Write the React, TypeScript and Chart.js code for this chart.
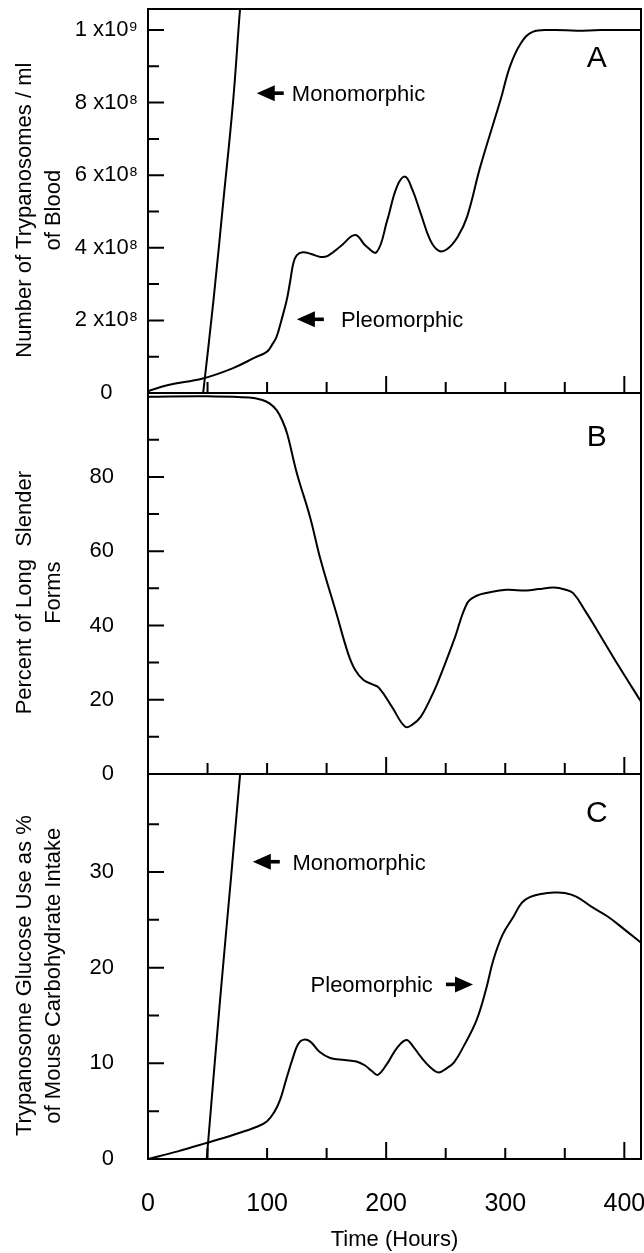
import React, { useEffect, useRef } from 'react';
import { Chart, registerables } from 'chart.js';

Chart.register(...registerables);

const FAMILY = "'Liberation Sans', Arial, Helvetica, sans-serif";

// ---------- x axis (Time, hours) ----------
const xTickValues = [0, 100, 200, 300, 400];
const xTickLabels = ['0', '100', '200', '300', '400'];
const xShortMarks = [50, 100, 150, 250, 300, 350];
const xLongMarks = [200, 400];

// ---------- Panel A: trypanosomes / ml of blood ----------
const aPleoHours = [0, 17, 46, 71, 90, 100, 104, 108, 112, 116.5, 119.5, 122, 125, 130, 137, 145, 151, 162, 174, 183, 192, 201, 209, 216, 222, 229, 237, 244, 251, 260, 268, 279, 296, 304, 313, 323, 340, 360, 380, 414];
const aPleoCounts = [0.05e8, 0.22e8, 0.4e8, 0.68e8, 0.98e8, 1.14e8, 1.32e8, 1.55e8, 2.0e8, 2.56e8, 3.1e8, 3.57e8, 3.8e8, 3.88e8, 3.83e8, 3.75e8, 3.78e8, 4.05e8, 4.35e8, 4.05e8, 3.88e8, 4.77e8, 5.68e8, 5.96e8, 5.6e8, 4.95e8, 4.21e8, 3.92e8, 3.96e8, 4.3e8, 4.86e8, 6.23e8, 8.07e8, 9.0e8, 9.63e8, 9.95e8, 10.0e8, 9.98e8, 10.0e8, 10.0e8];
const aMonoHours = [46.3, 55, 63.3, 71.5, 77.3, 80];
const aMonoCounts = [0, 2.56e8, 5.3e8, 8.05e8, 10.58e8, 11.5e8];
const yTicksA = [0, 2e8, 4e8, 6e8, 8e8, 1e9];
const yTickLabelsA = ['0', '2 x10⁸', '4 x10⁸', '6 x10⁸', '8 x10⁸', '1 x10⁹'];
const yMinorA = [1e8, 3e8, 5e8, 7e8, 9e8];

// ---------- Panel B: percent of long slender forms ----------
const bHours = [0, 50, 85, 96, 102, 108, 113, 117, 125, 136, 145, 158, 168, 174, 181, 188, 194, 205, 216, 222, 229, 236, 243, 257, 268, 276, 285, 301, 318, 328, 341, 350, 357, 367, 377, 395, 414];
const bPercent = [101.6, 101.7, 101.4, 100.7, 99.8, 98, 95, 91.5, 81, 69.3, 57.6, 43.5, 32.5, 28, 25.3, 24.2, 23.2, 18, 12.7, 13.3, 15.4, 19.5, 24.4, 36.1, 46, 48, 48.8, 49.6, 49.4, 49.8, 50.2, 49.7, 48.7, 44, 38.8, 29.2, 19.5];
const yTicksB = [0, 20, 40, 60, 80];
const yTickLabelsB = ['0', '20', '40', '60', '80'];
const yMinorB = [10, 30, 50, 70, 90];

// ---------- Panel C: glucose use as % of carbohydrate intake ----------
const cPleoHours = [0, 25, 49, 72, 92, 100, 106, 111, 116, 122, 126, 130, 136, 144, 153, 165, 175, 182, 188, 193, 201, 209, 217, 223, 229, 237, 244, 251, 257, 265, 276, 284, 290, 298, 307, 314, 321, 330, 341, 350, 360, 372, 386, 400, 414];
const cPleoUse = [0, 0.8, 1.67, 2.54, 3.4, 3.95, 4.9, 6.2, 8.3, 10.7, 12.0, 12.45, 12.3, 11.2, 10.55, 10.35, 10.2, 9.8, 9.2, 8.8, 10.0, 11.6, 12.45, 11.7, 10.7, 9.6, 9.05, 9.5, 10.1, 11.77, 14.55, 17.8, 20.8, 23.5, 25.35, 26.8, 27.4, 27.7, 27.85, 27.8, 27.4, 26.4, 25.35, 24, 22.6];
const cMonoHours = [49.3, 60.5, 70, 80];
const cMonoUse = [0, 16.6, 29.8, 44];
const yTicksC = [0, 10, 20, 30];
const yTickLabelsC = ['0', '10', '20', '30'];
const yMinorC = [5, 15, 25, 35];

// ---------- annotations (data coordinates) ----------
const arrowNotes = [
  { axis: 'yA', text: 'Monomorphic', tipX: 91.3, y: 8.26e8, dir: -1, textX: 120.8 },
  { axis: 'yA', text: 'Pleomorphic', tipX: 125, y: 2.03e8, dir: -1, textX: 162 },
  { axis: 'yC', text: 'Monomorphic', tipX: 88, y: 31.07, dir: -1, textX: 121.3 },
  { axis: 'yC', text: 'Pleomorphic', tipX: 272.9, y: 18.25, dir: 1, textX: 239.2 },
];
const panelLetters = [
  { axis: 'yA', text: 'A', x: 376.9, y: 9.28e8 },
  { axis: 'yB', text: 'B', x: 376.9, y: 91.3 },
  { axis: 'yC', text: 'C', x: 376.9, y: 36.3 },
];

const zip = (xs: number[], ys: number[]) => xs.map((x, i) => ({ x, y: ys[i] }));

const panelPlugin = {
  id: 'panelFrame',
  beforeDatasetDraw(chart: any, args: any) {
    const ys = chart.scales[args.meta.yAxisID];
    const { ctx, chartArea } = chart;
    ctx.save();
    ctx.beginPath();
    ctx.rect(chartArea.left, ys.top, chartArea.right - chartArea.left, ys.bottom - ys.top);
    ctx.clip();
  },
  afterDatasetDraw(chart: any) {
    chart.ctx.restore();
  },
  afterDraw(chart: any) {
    const { ctx, chartArea } = chart;
    const xs = chart.scales.x;
    const panels = [
      { s: chart.scales.yA, major: yTicksA.slice(1), minor: yMinorA },
      { s: chart.scales.yB, major: yTicksB.slice(1), minor: yMinorB },
      { s: chart.scales.yC, major: yTicksC.slice(1), minor: yMinorC },
    ];
    ctx.save();
    ctx.strokeStyle = '#000';
    ctx.fillStyle = '#000';
    ctx.lineWidth = 2;
    ctx.lineCap = 'butt';
    const L = chartArea.left;
    const R = chartArea.right;
    ctx.beginPath();
    ctx.moveTo(L, chartArea.top - 1);
    ctx.lineTo(L, chartArea.bottom + 1);
    ctx.moveTo(R, chartArea.top - 1);
    ctx.lineTo(R, chartArea.bottom + 1);
    ctx.moveTo(L - 1, chartArea.top);
    ctx.lineTo(R + 1, chartArea.top);
    for (const p of panels) {
      const yb = p.s.bottom;
      ctx.moveTo(L - 1, yb);
      ctx.lineTo(R + 1, yb);
      for (const v of p.major) {
        const y = p.s.getPixelForValue(v);
        ctx.moveTo(L, y);
        ctx.lineTo(L + 16, y);
      }
      for (const v of p.minor) {
        const y = p.s.getPixelForValue(v);
        ctx.moveTo(L, y);
        ctx.lineTo(L + 11, y);
      }
      for (const v of xShortMarks) {
        const x = xs.getPixelForValue(v);
        ctx.moveTo(x, yb);
        ctx.lineTo(x, yb - 11);
      }
      for (const v of xLongMarks) {
        const x = xs.getPixelForValue(v);
        ctx.moveTo(x, yb);
        ctx.lineTo(x, yb - 17);
      }
    }
    ctx.stroke();

    ctx.font = `22px ${FAMILY}`;
    ctx.textBaseline = 'alphabetic';
    for (const n of arrowNotes) {
      const ys = chart.scales[n.axis];
      const y = ys.getPixelForValue(n.y);
      const tip = xs.getPixelForValue(n.tipX);
      const d = n.dir;
      ctx.beginPath();
      ctx.moveTo(tip, y);
      ctx.lineTo(tip - d * 18, y - 8);
      ctx.lineTo(tip - d * 18, y + 8);
      ctx.closePath();
      ctx.fill();
      const s0 = tip - d * 17;
      const s1 = tip - d * 27;
      ctx.fillRect(Math.min(s0, s1), y - 1.8, Math.abs(s1 - s0), 3.6);
      ctx.textAlign = d < 0 ? 'left' : 'right';
      ctx.fillText(n.text, xs.getPixelForValue(n.textX), y + 7.9);
    }
    ctx.font = `30px ${FAMILY}`;
    ctx.textAlign = 'center';
    for (const l of panelLetters) {
      const ys = chart.scales[l.axis];
      ctx.fillText(l.text, xs.getPixelForValue(l.x), ys.getPixelForValue(l.y) + 10.8);
    }
    ctx.restore();
  },
};

function yAxis(
  weight: number,
  max: number,
  tickValues: number[],
  tickLabels: string[],
  title: string[],
  padding: number,
  crossAlign: 'near' | 'center' | 'far',
) {
  return {
    type: 'linear',
    position: 'left',
    stack: 'panels',
    stackWeight: weight,
    min: 0,
    max,
    grid: { display: false, drawTicks: false },
    border: { display: false },
    afterBuildTicks: (s: any) => {
      s.ticks = tickValues.map((v) => ({ value: v }));
    },
    afterFit: (s: any) => {
      s.width = 148;
      s.paddingTop = 0;
      s.paddingBottom = 0;
    },
    ticks: {
      autoSkip: false,
      color: '#000',
      padding,
      crossAlign,
      font: { family: FAMILY, size: 22 },
      callback: (_v: any, i: number) => tickLabels[i],
    },
    title: {
      display: true,
      text: title,
      color: '#000',
      font: { family: FAMILY, size: 22, lineHeight: 1.3 },
      padding: { top: 11, bottom: 0 },
    },
  };
}

export default function App() {
  const ref = useRef<HTMLCanvasElement>(null);
  useEffect(() => {
    document.body.style.margin = '0';
    document.body.style.overflow = 'hidden';
    const canvas = ref.current;
    if (!canvas) return;
    const common = {
      borderColor: '#000',
      borderWidth: 2,
      pointRadius: 0,
      fill: false,
      tension: 0.4,
      xAxisID: 'x',
    };
    const chart = new Chart(canvas, {
      type: 'line',
      data: {
        datasets: [
          { ...common, label: 'Pleomorphic (A)', yAxisID: 'yA', data: zip(aPleoHours, aPleoCounts) },
          { ...common, label: 'Monomorphic (A)', yAxisID: 'yA', data: zip(aMonoHours, aMonoCounts) },
          { ...common, label: 'Long slender forms (B)', yAxisID: 'yB', data: zip(bHours, bPercent) },
          { ...common, label: 'Pleomorphic (C)', yAxisID: 'yC', data: zip(cPleoHours, cPleoUse) },
          { ...common, label: 'Monomorphic (C)', yAxisID: 'yC', data: zip(cMonoHours, cMonoUse) },
        ] as any,
      },
      options: {
        responsive: false,
        animation: false,
        layout: { padding: { top: 9, right: 3, bottom: 0, left: 0 } },
        plugins: { legend: { display: false }, tooltip: { enabled: false }, title: { display: false } },
        scales: {
          x: {
            type: 'linear',
            position: 'bottom',
            min: 0,
            max: 414,
            grid: { display: false, drawTicks: false },
            border: { display: false },
            afterBuildTicks: (s: any) => {
              s.ticks = xTickValues.map((v) => ({ value: v }));
            },
            afterFit: (s: any) => {
              s.height = 94;
              s.paddingLeft = 0;
              s.paddingRight = 0;
            },
            ticks: {
              autoSkip: false,
              maxRotation: 0,
              color: '#000',
              padding: 30,
              font: { family: FAMILY, size: 25 },
              callback: (_v: any, i: number) => xTickLabels[i],
            },
            title: {
              display: true,
              text: 'Time (Hours)',
              color: '#000',
              font: { family: FAMILY, size: 22 },
              padding: { top: 0, bottom: 0 },
            },
          },
          yC: yAxis(385, 40.24, yTicksC, yTickLabelsC, ['Trypanosome Glucose Use as %   ', 'of Mouse Carbohydrate Intake   '], 34, 'near'),
          yB: yAxis(381, 102.6, yTicksB, yTickLabelsB, ['Percent of Long  Slender   ', 'Forms   '], 34, 'near'),
          yA: yAxis(384, 1.0579e9, yTicksA, yTickLabelsA, ['Number of Trypanosomes / ml   ', 'of Blood   '], 10, 'center'),
        } as any,
      },
      plugins: [panelPlugin as any],
    });
    return () => chart.destroy();
  }, []);
  return (
    <canvas
      ref={ref}
      width={644}
      height={1253}
      style={{ display: 'block', width: 644, height: 1253 }}
    />
  );
}
